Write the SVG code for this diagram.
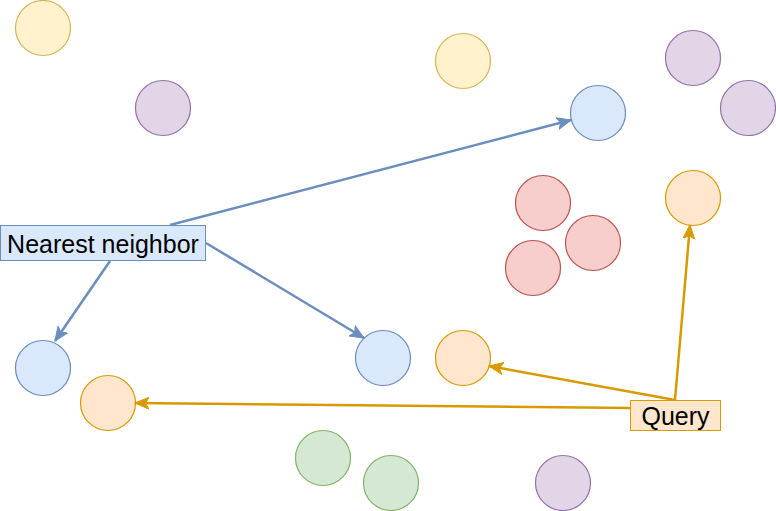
<svg xmlns="http://www.w3.org/2000/svg" width="776" height="511" viewBox="0 0 776 511">
<defs>
<style>
circle{stroke-width:1.2}
.y{fill:#fff2cc;stroke:#d6b656}
.p{fill:#e1d5e7;stroke:#9673a6}
.b{fill:#dae8fc;stroke:#6c8ebf}
.o{fill:#ffe6cc;stroke:#d79b00}
.r{fill:#f8cecc;stroke:#b85450}
.g{fill:#d5e8d4;stroke:#82b366}
.eb{stroke:#6c8ebf;stroke-width:2.5;fill:none;marker-end:url(#ab)}
.eo{stroke:#d79b00;stroke-width:2.5;fill:none;marker-end:url(#ao)}
text{font-family:"Liberation Sans",Arial,sans-serif;font-size:25px;fill:#000;text-anchor:middle;dominant-baseline:central}
</style>
<marker id="ab" markerUnits="userSpaceOnUse" markerWidth="16" markerHeight="14" refX="14" refY="7" orient="auto" viewBox="0 0 16 14"><path d="M0,1 L14,7 L0,13 L3.5,7 z" fill="#6c8ebf" stroke="#6c8ebf" stroke-width="1"/></marker>
<marker id="ao" markerUnits="userSpaceOnUse" markerWidth="16" markerHeight="14" refX="14" refY="7" orient="auto" viewBox="0 0 16 14"><path d="M0,1 L14,7 L0,13 L3.5,7 z" fill="#d79b00" stroke="#d79b00" stroke-width="1"/></marker>
</defs>
<rect width="776" height="511" fill="#fff"/>
<g id="c1"><circle class="y" cx="43" cy="28" r="27.5"/></g>
<g id="c2"><circle class="p" cx="163" cy="108" r="27.5"/></g>
<g id="c3"><circle class="y" cx="463" cy="61" r="27.5"/></g>
<g id="c4"><circle class="b" cx="598" cy="113" r="27.5"/></g>
<g id="c5"><circle class="p" cx="693" cy="58" r="27.5"/></g>
<g id="c6"><circle class="p" cx="748" cy="108" r="27.5"/></g>
<g id="c7"><circle class="r" cx="543" cy="203" r="27.5"/></g>
<g id="c8"><circle class="r" cx="593" cy="243" r="27.5"/></g>
<g id="c9"><circle class="r" cx="533" cy="268" r="27.5"/></g>
<g id="c10"><circle class="o" cx="693" cy="198" r="27.5"/></g>
<g id="c11"><circle class="b" cx="43" cy="368" r="27.5"/></g>
<g id="c12"><circle class="o" cx="108" cy="403" r="27.5"/></g>
<g id="c13"><circle class="b" cx="383" cy="358" r="27.5"/></g>
<g id="c14"><circle class="o" cx="463" cy="358" r="27.5"/></g>
<g id="c15"><circle class="g" cx="323" cy="458" r="27.5"/></g>
<g id="c16"><circle class="g" cx="391" cy="483" r="27.5"/></g>
<g id="c17"><circle class="p" cx="563" cy="483" r="27.5"/></g>
<g id="edges">
<line class="eb" x1="170" y1="225" x2="571" y2="120"/>
<line class="eb" x1="110" y1="261" x2="55" y2="341"/>
<line class="eb" x1="206" y1="243" x2="364" y2="338"/>
<line class="eo" x1="675" y1="400" x2="690" y2="225"/>
<line class="eo" x1="675" y1="400" x2="489" y2="366"/>
<line class="eo" x1="630" y1="408" x2="135" y2="403"/>
</g>
<g id="nn"><rect x="0.5" y="225.5" width="205" height="35" fill="#dae8fc" stroke="#6c8ebf"/><text x="103" y="243.5">Nearest neighbor</text></g>
<g id="query"><rect x="630.5" y="400.5" width="90" height="30" fill="#ffe6cc" stroke="#d79b00"/><text x="675.5" y="416">Query</text></g>
</svg>
